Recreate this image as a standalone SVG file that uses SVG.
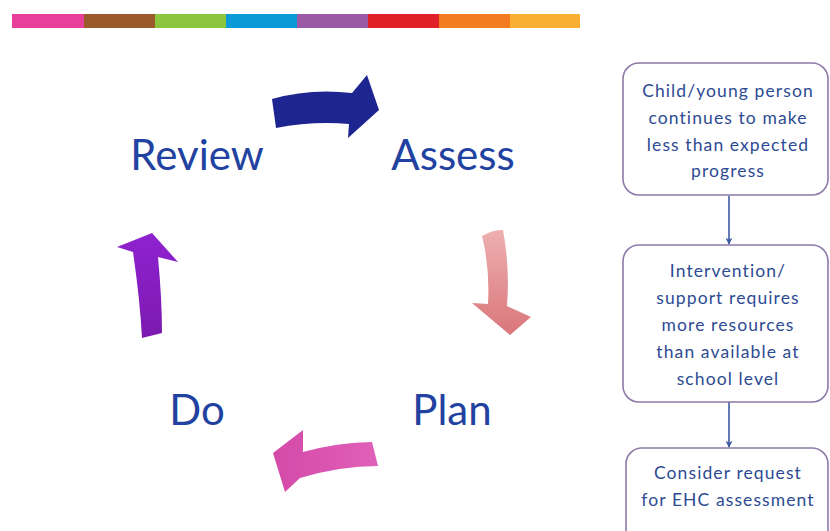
<svg xmlns="http://www.w3.org/2000/svg" width="830" height="531" viewBox="0 0 830 531">
<defs>
<style>
.big{font-family:Lato,"Open Sans",sans-serif;font-size:42px;fill:#2142a0;text-anchor:middle}
.bx{fill:#fff;stroke:#8d7aa8;stroke-width:1.6}
.bt{font-family:Lato,"Open Sans",sans-serif;font-size:17.5px;letter-spacing:1.1px;fill:#2d4b93;text-anchor:middle}
.con{stroke:#3d5aa3;stroke-width:1.6;fill:none}
</style>
<marker id="ah" viewBox="0 0 10 10" refX="9" refY="5" markerWidth="7" markerHeight="7" orient="auto" markerUnits="userSpaceOnUse">
<path d="M0,0 L10,5 L0,10 L3,5 Z" fill="#3d5aa3"/>
</marker>
<linearGradient id="gs" x1="0" y1="0" x2="0" y2="1"><stop offset="0" stop-color="#eeb0b0"/><stop offset="1" stop-color="#d9767a"/></linearGradient>
<linearGradient id="gp" x1="0" y1="0" x2="1" y2="0"><stop offset="0" stop-color="#d44aa8"/><stop offset="1" stop-color="#e060b8"/></linearGradient>
<linearGradient id="gv" x1="0" y1="0" x2="0" y2="1"><stop offset="0" stop-color="#8f22d0"/><stop offset="1" stop-color="#7c1ab0"/></linearGradient>
</defs>
<g id="colorbar">
<rect x="12" y="14" width="72" height="14" fill="#e8409a"/>
<rect x="84" y="14" width="71" height="14" fill="#9b5a2a"/>
<rect x="155" y="14" width="71" height="14" fill="#8cc63f"/>
<rect x="226" y="14" width="71" height="14" fill="#0a9ad8"/>
<rect x="297" y="14" width="71" height="14" fill="#9b5aa5"/>
<rect x="368" y="14" width="71" height="14" fill="#e02228"/>
<rect x="439" y="14" width="71" height="14" fill="#f47c20"/>
<rect x="510" y="14" width="70" height="14" fill="#fbb034"/>
</g>
<g id="cycle-arrows">
<path d="M272,99 Q310,88 352,93 L367,75 L379,110 L348,138 L349,124 Q312,121 276,128 Z" fill="#1d2590"/>
<path d="M482,236 Q494,229 503,230 Q510,268 507,306 L531,317 L510,335 L472,303 L488,304 Q490,268 482,236 Z" fill="url(#gs)"/>
<path d="M273,453 L303,430 L303,452 Q340,442 372,442 L378,466 Q340,466 300,478 L285,492 Z" fill="url(#gp)"/>
<path d="M152,233 L178,262 L158,257 Q162,300 162,333 L142,338 Q140,300 133,252 L117,247 Z" fill="url(#gv)"/>
</g>
<g id="review"><text class="big" x="197" y="170">Review</text></g>
<g id="assess"><text class="big" x="453" y="170">Assess</text></g>
<g id="plan"><text class="big" x="452" y="425">Plan</text></g>
<g id="do"><text class="big" x="197" y="425">Do</text></g>
<g id="connectors">
<line class="con" x1="729" y1="196" x2="729" y2="244" marker-end="url(#ah)"/>
<line class="con" x1="729" y1="402" x2="729" y2="447" marker-end="url(#ah)"/>
</g>
<g id="box1">
<rect class="bx" x="623" y="63" width="205" height="132" rx="16"/>
<text class="bt" x="728" y="97">Child/young person</text>
<text class="bt" x="728" y="124">continues to make</text>
<text class="bt" x="728" y="151">less than expected</text>
<text class="bt" x="728" y="177">progress</text>
</g>
<g id="box2">
<rect class="bx" x="623" y="245" width="205" height="157" rx="16"/>
<text class="bt" x="728" y="277">Intervention/</text>
<text class="bt" x="728" y="304">support requires</text>
<text class="bt" x="728" y="331">more resources</text>
<text class="bt" x="728" y="358">than available at</text>
<text class="bt" x="728" y="385">school level</text>
</g>
<g id="box3">
<rect class="bx" x="626" y="448" width="202" height="100" rx="16"/>
<text class="bt" x="728" y="479">Consider request</text>
<text class="bt" x="728" y="506">for EHC assessment</text>
</g>
</svg>
